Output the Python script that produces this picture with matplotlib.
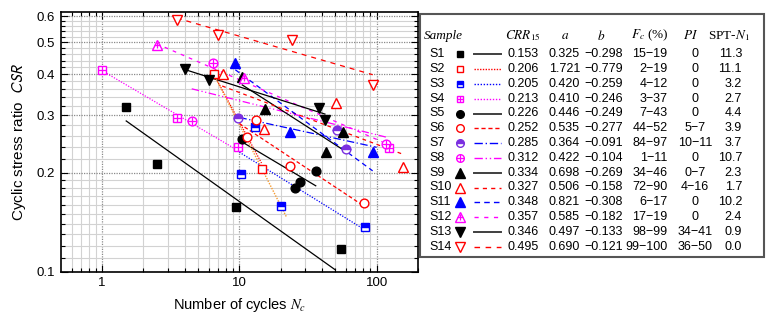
import numpy as np
import matplotlib
matplotlib.use('Agg')
import matplotlib.pyplot as plt
from matplotlib.patches import Rectangle
from matplotlib.ticker import FixedLocator, NullFormatter

plt.rcParams['font.family'] = ['Liberation Sans', 'DejaVu Sans']

# ---------------- data ----------------
samples = ['S1', 'S2', 'S3', 'S4', 'S5', 'S6', 'S7', 'S8', 'S9', 'S10', 'S11', 'S12', 'S13', 'S14']
crr15 = [0.153, 0.206, 0.205, 0.213, 0.226, 0.252, 0.285, 0.312, 0.334, 0.327, 0.348, 0.357, 0.346, 0.495]
a_vals = [0.325, 1.721, 0.420, 0.410, 0.446, 0.535, 0.364, 0.422, 0.698, 0.506, 0.821, 0.585, 0.497, 0.690]
b_vals = [-0.298, -0.779, -0.259, -0.246, -0.249, -0.277, -0.091, -0.104, -0.269, -0.158, -0.308, -0.182, -0.133, -0.121]
fc_text = ['15\u221219', '2\u221219', '4\u221212', '3\u221237', '7\u221243', '44\u221252', '84\u221297',
           '1\u221211', '34\u221246', '72\u221290', '6\u221217', '17\u221219', '98\u221299', '99\u2212100']
pi_text = ['0', '0', '0', '0', '0', '5\u22127', '10\u221211', '0', '0\u22127', '4\u221216', '0', '0',
           '34\u221241', '36\u221250']
spt_text = ['11.3', '11.1', '3.2', '2.7', '4.4', '3.9', '3.7', '10.7', '2.3', '1.7', '10.2', '2.4', '0.9', '0.0']

# measured points (number of cycles, CSR)
n_pts = [
    [1.5, 2.5, 9.5, 55.0],
    [6.5, 14.5],
    [10.3, 13.1, 20.1, 82.0],
    [1.0, 3.5, 9.7, 124.0],
    [10.4, 25.6, 27.8, 36.2],
    [11.4, 13.2, 23.2, 80.4],
    [9.8, 51.5, 59.8],
    [4.5, 6.4, 117.0],
    [10.5, 15.3, 42.8, 56.5],
    [7.6, 15.0, 50.6, 155.0],
    [9.35, 23.5, 93.5],
    [2.5, 10.75],
    [4.0, 6.0, 38.2, 42.3],
    [3.5, 6.95, 24.2, 93.5],
]
csr_pts = [
    [0.317, 0.213, 0.158, 0.117],
    [0.400, 0.205],
    [0.198, 0.276, 0.159, 0.137],
    [0.413, 0.294, 0.240, 0.238],
    [0.254, 0.180, 0.188, 0.203],
    [0.257, 0.289, 0.210, 0.162],
    [0.294, 0.271, 0.237],
    [0.287, 0.434, 0.245],
    [0.392, 0.313, 0.231, 0.266],
    [0.401, 0.272, 0.327, 0.208],
    [0.434, 0.267, 0.232],
    [0.492, 0.389],
    [0.415, 0.385, 0.315, 0.290],
    [0.586, 0.528, 0.507, 0.371],
]
# range of cycles over which each fitted curve CSR = a*N^b is drawn
fit_n_start = [1.5, 6.5, 10.0, 1.0, 10.0, 10.0, 10.0, 4.5, 10.5, 7.5, 9.35, 2.5, 3.9, 3.5]
fit_n_end = [50.0, 14.5, 82.0, 10.0, 36.0, 80.0, 100.0, 120.0, 57.0, 155.0, 93.5, 110.0, 42.0, 93.5]
# additional orange dotted trend line seen for S2
s2_extra_n = [6.5, 22.0]
s2_extra_csr = [0.400, 0.147]

# ---------------- styles ----------------
purple = '#7b2fe0'
mk = ['s', 's', 's', 's', 'o', 'o', 'o', 'o', '^', '^', '^', '^', 'v', 'v']
mk_edge = ['black', 'red', 'blue', 'magenta', 'black', 'red', purple, 'magenta',
           'black', 'red', 'blue', 'magenta', 'black', 'red']
mk_face = ['black', 'white', 'blue', 'white', 'black', 'white', purple, 'white',
           'black', 'white', 'blue', 'white', 'black', 'white']
mk_fill = ['full', 'full', 'top', 'full', 'full', 'full', 'top', 'full',
           'full', 'full', 'full', 'full', 'full', 'full']
mk_plus = [False, False, False, True, False, False, False, True,
           False, False, False, True, False, False]
ln_color = ['black', 'red', 'blue', 'magenta', 'black', 'red', 'blue', 'magenta',
            'black', 'red', 'blue', 'magenta', 'black', 'red']
ln_style = ['-', (0, (1, 1)), (0, (1, 1.2)), (0, (1, 1.2)), '-', (0, (3, 2)),
            (0, (6, 2, 1, 2)), (0, (6, 2, 1, 2, 1, 2)), '-', (0, (3, 3)),
            (0, (4, 3)), (0, (3, 4)), '-', (0, (4, 4))]
ms_main = {'s': 5.5, 'o': 6.3, '^': 7.5, 'v': 7.5}
ms_leg = {'s': 4.8, 'o': 5.5, '^': 6.5, 'v': 6.5}

W, H = 779, 326
fig = plt.figure(figsize=(W / 100, H / 100), dpi=100)
ax = fig.add_axes([60.7 / W, (H - 271.7) / H, (418 - 60.7) / W, (271.7 - 11.7) / H])
ax.set_xscale('log')
ax.set_yscale('log')
ax.set_xlim(0.5, 200)
ax.set_ylim(0.1, 0.62)

yt = [0.1, 0.2, 0.3, 0.4, 0.5, 0.6]
ax.yaxis.set_major_locator(FixedLocator(yt))
ax.set_yticklabels(['0.1', '0.2', '0.3', '0.4', '0.5', '0.6'])
ymin = [round(0.11 + 0.01 * k, 2) for k in range(9)] + [round(0.22 + 0.02 * k, 2) for k in range(19)]
ymin = [v for v in ymin if abs(v * 10 - round(v * 10)) > 1e-6 and v < 0.62]
ax.yaxis.set_minor_locator(FixedLocator(ymin))
ax.yaxis.set_minor_formatter(NullFormatter())
ax.xaxis.set_major_locator(FixedLocator([1, 10, 100]))
ax.set_xticklabels(['1', '10', '100'])
xmin = [0.6, 0.7, 0.8, 0.9] + [float(k) for k in range(2, 10)] + [10.0 * k for k in range(2, 10)] + [200.0]
ax.xaxis.set_minor_locator(FixedLocator(xmin))
ax.xaxis.set_minor_formatter(NullFormatter())

ax.grid(which='minor', color='#d2d2d2', lw=0.8, ls='-', zorder=0)
ax.grid(which='major', color='#8a8a8a', lw=0.9, ls=(0, (1, 1)), zorder=0)
ax.set_axisbelow(True)
ax.tick_params(which='both', direction='in', top=True, right=True, width=0.8)
ax.tick_params(which='major', length=5, labelsize=9.5, pad=4)
ax.tick_params(which='minor', length=3)
for s in ax.spines.values():
    s.set_linewidth(1.2)

ax.set_ylabel('Cyclic stress ratio  $\\mathit{CSR}$', fontsize=11, math_fontfamily='stixsans', labelpad=6)
ax.set_xlabel('Number of cycles $N_c$', fontsize=10.5, math_fontfamily='stix', labelpad=5)

# fitted lines
for i in range(len(samples)):
    nl = np.geomspace(fit_n_start[i], fit_n_end[i], 60)
    ax.plot(nl, a_vals[i] * nl ** b_vals[i], color=ln_color[i], ls=ln_style[i], lw=0.9, zorder=2)
ax.plot(s2_extra_n, s2_extra_csr, color='#f59a30', ls=(0, (1, 1)), lw=1.0, zorder=2)

# markers
for i in range(len(samples)):
    m = mk[i]
    ax.plot(n_pts[i], csr_pts[i], ls='none', marker=m, ms=ms_main[m], mfc=mk_face[i],
            mec=mk_edge[i], mew=1.0, fillstyle=mk_fill[i], markerfacecoloralt='white', zorder=3)
    if mk_plus[i]:
        pm = ms_main[m] * (0.6 if m == '^' else 1.0)
        ax.plot(n_pts[i], csr_pts[i], ls='none', marker='+', ms=pm, mec=mk_edge[i], mew=0.9, zorder=4)

# ---------------- legend table ----------------
lax = fig.add_axes([0, 0, 1, 1], facecolor='none')
lax.set_xlim(0, W)
lax.set_ylim(H, 0)
lax.axis('off')
lax.add_patch(Rectangle((420, 14), 344, 242.7, fill=False, edgecolor='#555555', lw=1.5))

hy = 35.7
hdr = dict(va='center', fontsize=9.5, family=['Liberation Serif', 'DejaVu Serif'], math_fontfamily='stix')
lax.text(424, hy, 'Sample', style='italic', ha='left', **hdr)
lax.text(523, hy, '$\\mathit{CRR}_{15}$', ha='center', **hdr)
lax.text(565, hy, '$a$', ha='center', **hdr)
lax.text(601, hy, '$b$', ha='center', **hdr)
lax.text(650, hy, '$F_c$ (%)', ha='center', **hdr)
lax.text(691, hy, '$PI$', ha='center', **hdr)
lax.text(729, hy, 'SPT-$N_1$', ha='center', **hdr)

row = dict(va='center', fontsize=9)
for i in range(len(samples)):
    y = 54.3 + 14.8 * i
    lax.text(429, y, samples[i], ha='left', **row)
    m = mk[i]
    lax.plot([460], [y], ls='none', marker=m, ms=ms_leg[m], mfc=mk_face[i], mec=mk_edge[i],
             mew=1.0, fillstyle=mk_fill[i], markerfacecoloralt='white')
    if mk_plus[i]:
        lax.plot([460], [y], ls='none', marker='+', ms=ms_leg[m] * (0.6 if m == '^' else 1.0),
                 mec=mk_edge[i], mew=0.9)
    lax.plot([474, 501], [y, y], color=ln_color[i], ls=ln_style[i], lw=1.0 if ln_style[i] != '-' else 1.4,
             alpha=1.0 if ln_style[i] != '-' else 0.75)
    lax.text(523.5, y, f'{crr15[i]:.3f}', ha='center', **row)
    lax.text(564.5, y, f'{a_vals[i]:.3f}', ha='center', **row)
    lax.text(604, y, f'{b_vals[i]:.3f}'.replace('-', '\u2212'), ha='center', **row)
    lax.text(667.5, y, fc_text[i], ha='right', **row)
    lax.text(695, y, pi_text[i], ha='center', **row)
    lax.text(742, y, spt_text[i], ha='right', **row)

fig.savefig('out.png', dpi=100)
